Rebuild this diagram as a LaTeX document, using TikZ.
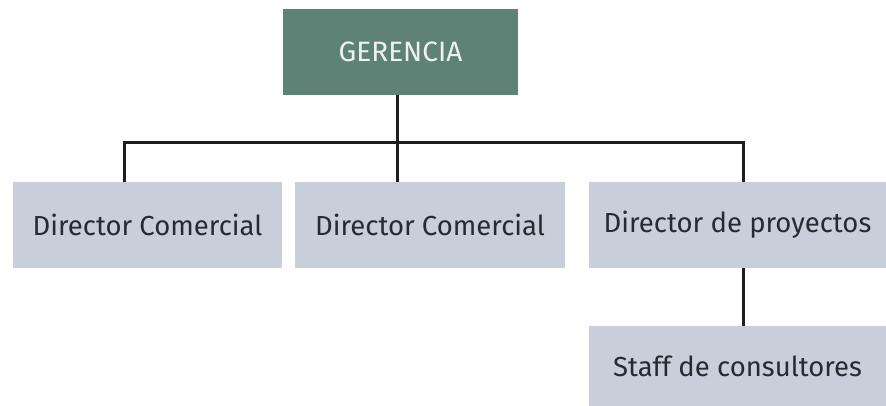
\documentclass[tikz,border=0pt]{standalone}
\usepackage{fontspec}
\setmainfont{Fira Sans}
\definecolor{headfill}{HTML}{5F8277}
\definecolor{headtext}{HTML}{EEF2EF}
\definecolor{unitfill}{HTML}{C9CEDB}
\definecolor{unittext}{HTML}{272A31}
\definecolor{linecol}{HTML}{1E1E1E}
\tikzset{
  head/.style={fill=headfill, text=headtext, minimum width=235pt, minimum height=86pt,
    inner sep=0pt, font=\fontsize{28}{32}\selectfont},
  unit/.style={fill=unitfill, text=unittext, minimum height=86pt,
    inner sep=0pt, font=\fontsize{27.5}{32}\selectfont},
  conn/.style={draw=linecol, line width=3pt}
}
\begin{document}
\begin{tikzpicture}[x=1pt, y=-1pt]
\useasboundingbox (0,0) rectangle (886,406);
\node[head] (ger) at (400.5,52) {GERENCIA};
\node[unit, minimum width=269pt] (d1) at (147.5,225) {Director Comercial};
\node[unit, minimum width=270pt] (d2) at (430,225) {Director Comercial};
\node[unit, minimum width=297pt] (d3) at (737.5,225) {Director de proyectos};
\node[unit, minimum width=297pt, minimum height=80pt] (staff) at (737.5,366) {Staff de consultores};
\coordinate (j) at (397,143);
\draw[conn] ([xshift=-3.5pt]ger.south) -- ([xshift=-3.5pt]ger.south |- d2.north);
\draw[conn] ([xshift=-23.5pt]d1.north) |- (j) -| ([xshift=5.5pt]d3.north);
\draw[conn] ([xshift=5.5pt]d3.south) -- ([xshift=5.5pt]staff.north);
\end{tikzpicture}
\end{document}
